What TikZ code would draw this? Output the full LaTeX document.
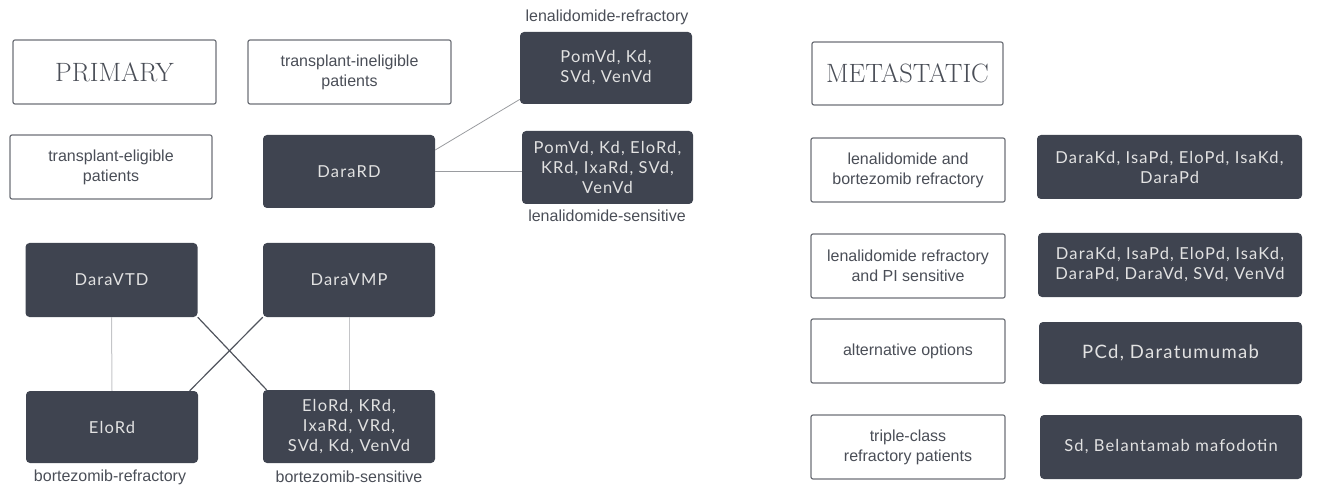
\documentclass[tikz,border=0pt]{standalone}
\usepackage{fontspec}
\newfontfamily\boxfont{Liberation Sans}
\newfontfamily\drugfont[LetterSpace=7]{Lato}
\begin{document}
\begin{tikzpicture}[x=1pt, y=-1pt,
  lightbox/.style={draw=boxedge, line width=1.2pt, rounded corners=2pt, fill=white, text=boxtext,
    font=\boxfont\fontsize{16}{20}\selectfont, align=center, inner sep=0pt,
    minimum width=194pt, minimum height=64pt},
  titlebox/.style={lightbox, font=\fontsize{26.5}{30}\selectfont},
  darkbox/.style={fill=darkfill, rounded corners=4pt, text=drugtext,
    font=\drugfont\fontsize{16.5}{20}\selectfont, align=center, inner sep=0pt,
    minimum width=172pt, minimum height=73pt},
  widebox/.style={darkbox, minimum width=264pt, minimum height=64pt},
  caption/.style={text=boxtext, font=\boxfont\fontsize{16}{18}\selectfont, inner sep=0pt},
  thinlink/.style={draw=linkgray, line width=0.8pt},
  palelink/.style={draw=palegray, line width=1pt},
  crosslink/.style={draw=crossgray, line width=1.2pt}]
\definecolor{boxedge}{HTML}{6E7178}
\definecolor{boxtext}{HTML}{4A4E57}
\definecolor{darkfill}{HTML}{3F4450}
\definecolor{drugtext}{HTML}{E2E2E2}
\definecolor{linkgray}{HTML}{9A9CA0}
\definecolor{palegray}{HTML}{C4C5C8}
\definecolor{crossgray}{HTML}{50545D}
\useasboundingbox (0,0) rectangle (1324,486);
% primary
\node[titlebox, minimum width=203pt] (primary) at (114.5,72) {PRIMARY};
\node[lightbox, minimum width=203pt] (inelig) at (349.5,72) {transplant-ineligible\\patients};
\node[lightbox, minimum width=202pt] (elig) at (111,167) {transplant-eligible\\patients};
\node[darkbox] (dararD) at (349,171.5) {DaraRD};
\node[darkbox, minimum height=72pt] (lenref) at (606,68) {PomVd, Kd,\\SVd, VenVd};
\node[darkbox, minimum width=171pt] (lensens) at (607.5,167.5) {PomVd, Kd, EloRd,\\KRd, IxaRd, SVd,\\VenVd};
\node[caption] (lenreflab) at (607,17) {lenalidomide-refractory};
\node[caption] (lensenslab) at (607,216) {lenalidomide-sensitive};
\node[darkbox, minimum height=74pt] (daravtd) at (111.5,280) {DaraVTD};
\node[darkbox, minimum height=74pt] (daravmp) at (349,280) {DaraVMP};
\node[darkbox, minimum height=72pt] (elord) at (112,427) {EloRd};
\node[darkbox] (bortsens) at (349,426.5) {EloRd, KRd,\\IxaRd, VRd,\\SVd, Kd, VenVd};
\node[caption] (bortreflab) at (110,477) {bortezomib-refractory};
\node[caption] (bortsenslab) at (349,477) {bortezomib-sensitive};
\draw[thinlink] (dararD.14) -- (lenref.200);
\draw[thinlink] (dararD.east) -- (dararD.east -| lensens.west);
\draw[palelink] (daravtd.south) -- (elord.north);
\draw[palelink] (daravmp.south) -- (bortsens.north);
\draw[crosslink] (daravtd.south east) -- (bortsens.156);
\draw[crosslink] (daravmp.south west) -- (elord.25);
% metastatic
\node[titlebox, minimum width=191pt, minimum height=63pt] (meta) at (907.5,73.5) {METASTATIC};
\node[lightbox] (lenbort) at (908,170) {lenalidomide and\\bortezomib refractory};
\node[widebox, minimum width=265pt] (lenbortrx) at (1169.5,167) {DaraKd, IsaPd, EloPd, IsaKd,\\DaraPd};
\node[lightbox] (lenpi) at (908,266) {lenalidomide refractory\\and PI sensitive};
\node[widebox] (lenpirx) at (1170,265) {DaraKd, IsaPd, EloPd, IsaKd,\\DaraPd, DaraVd, SVd, VenVd};
\node[lightbox] (altopt) at (908,351) {alternative options};
\node[widebox, minimum width=263pt, minimum height=62pt, font=\drugfont\fontsize{18.5}{22}\selectfont] (altoptrx) at (1170.5,353) {PCd, Daratumumab};
\node[lightbox] (triple) at (908,447) {triple-class\\refractory patients};
\node[widebox, minimum width=262pt, font=\drugfont\fontsize{16.5}{20}\selectfont] (triplerx) at (1171,447) {Sd, Belantamab mafodotin};
\end{tikzpicture}
\end{document}
